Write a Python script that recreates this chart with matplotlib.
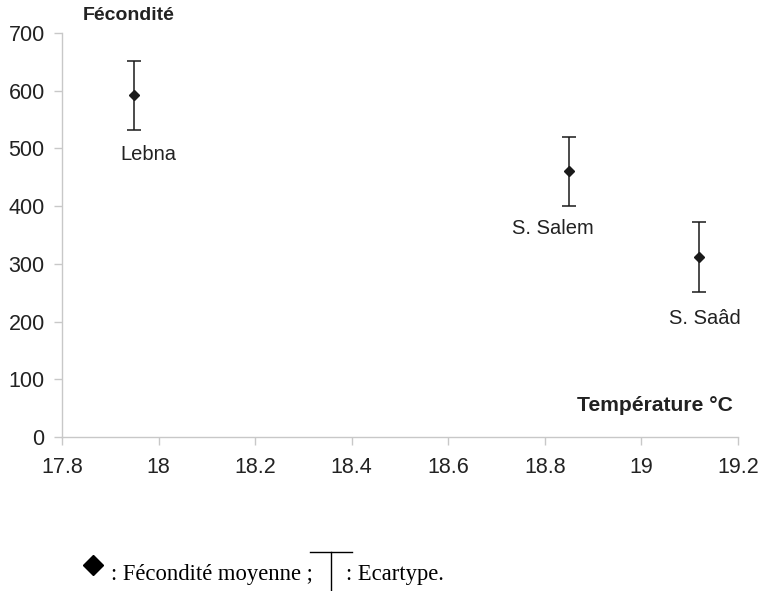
import matplotlib.pyplot as plt
from matplotlib.lines import Line2D

# données
sites = ["Lebna", "S. Salem", "S. Saâd"]
temperature = [17.95, 18.85, 19.12]
fecondite = [592, 460, 312]
ecartype = [60, 60, 60]
label_pos = [(17.979, 490), (18.816, 362), (19.131, 206)]

xticks = [17.8, 18, 18.2, 18.4, 18.6, 18.8, 19, 19.2]
xtick_labels = ["17.8", "18", "18.2", "18.4", "18.6", "18.8", "19", "19.2"]
yticks = [0, 100, 200, 300, 400, 500, 600, 700]

SANS = "Liberation Sans"
SERIF = "Liberation Serif"
GRIS = "#c8c8c8"
TEXTE = "#222222"

fig = plt.figure(figsize=(7.6, 5.91), dpi=100)
ax = fig.add_axes([0.0816, 0.2606, 0.8895, 0.6836])

ax.errorbar(temperature, fecondite, yerr=ecartype, fmt="D", color="#1a1a1a",
            markersize=5.2, elinewidth=1.1, capsize=4.8, capthick=1.1)

for s, (lx, ly) in zip(sites, label_pos):
    ax.text(lx, ly, s, ha="center", va="center", fontsize=14.5,
            family=SANS, color=TEXTE)

ax.set_xlim(17.8, 19.2)
ax.set_ylim(0, 700)
ax.set_xticks(xticks)
ax.set_xticklabels(xtick_labels)
ax.set_yticks(yticks)

for side in ["top", "right"]:
    ax.spines[side].set_visible(False)
for side in ["left", "bottom"]:
    ax.spines[side].set_color(GRIS)
    ax.spines[side].set_linewidth(1.0)
ax.tick_params(axis="both", colors=GRIS, length=5.5, width=1.0,
               labelcolor=TEXTE, labelsize=15.5)
ax.tick_params(axis="x", pad=9)
ax.tick_params(axis="y", pad=7)
for lab in ax.get_xticklabels() + ax.get_yticklabels():
    lab.set_family(SANS)

# titres des axes
ax.text(0.099, 1.043, "Fécondité", transform=ax.transAxes, ha="center",
        va="center", fontsize=14, fontweight="bold", family=SANS, color=TEXTE)
ax.text(0.992, 0.078, "Température °C", transform=ax.transAxes, ha="right",
        va="center", fontsize=15.2, fontweight="bold", family=SANS, color=TEXTE)

# légende dessinée à la main en bas
fig.lines.append(Line2D([92.5 / 760], [1 - 565 / 591], marker="D", markersize=10.5,
                        color="black", transform=fig.transFigure))
fig.text(111 / 760, 1 - 580 / 591, ": Fécondité moyenne ;", fontsize=16.3,
         family=SERIF, ha="left", va="baseline", color="black")
fig.lines.append(Line2D([310 / 760, 352 / 760], [1 - 552 / 591, 1 - 552 / 591],
                        color="black", lw=1.0, transform=fig.transFigure))
fig.lines.append(Line2D([331 / 760, 331 / 760], [1 - 552 / 591, 1 - 591 / 591],
                        color="black", lw=1.0, transform=fig.transFigure))
fig.text(346 / 760, 1 - 580 / 591, ": Ecartype.", fontsize=16.3,
         family=SERIF, ha="left", va="baseline", color="black")

fig.savefig("out.png", dpi=100)
